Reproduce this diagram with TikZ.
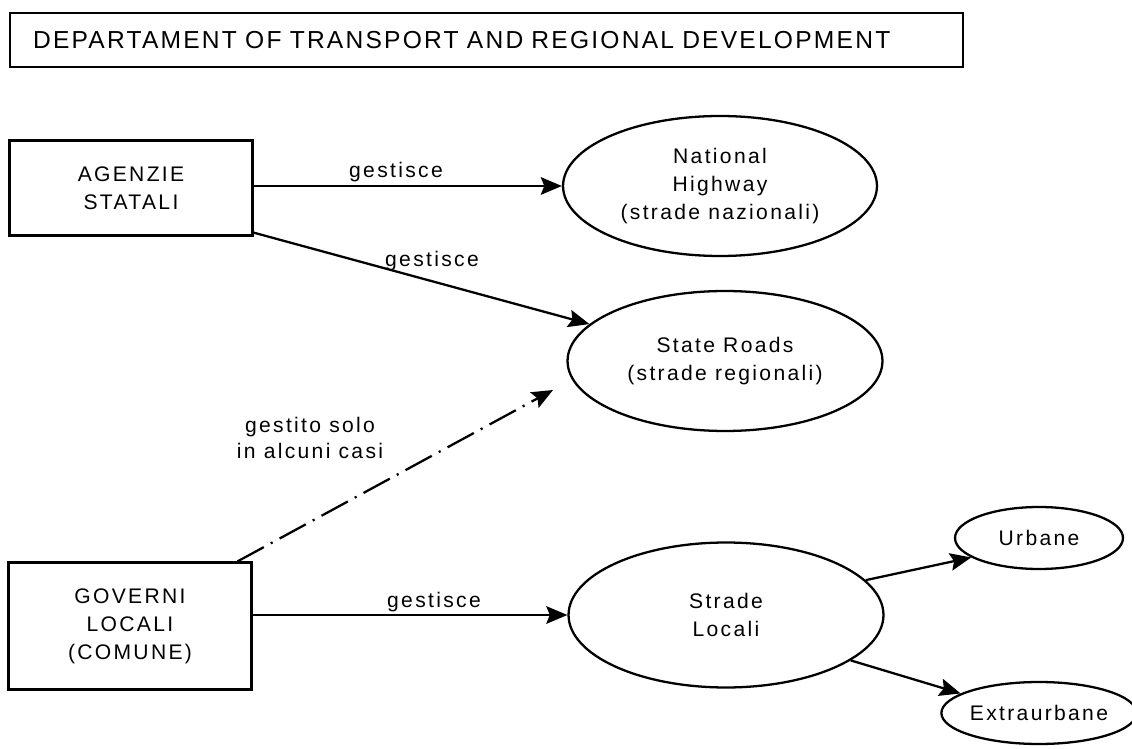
\documentclass[tikz,border=0pt]{standalone}
\usepackage{fontspec}
\setmainfont{Liberation Sans}[LetterSpace=11]
\usetikzlibrary{shapes.geometric, arrows.meta}

\tikzset{
  ente/.style={draw, line width=1.3pt, inner sep=0pt, align=center, minimum width=4.86cm, font=\fontsize{12}{16}\selectfont},
  strada/.style={draw, ellipse, line width=1.3pt, inner sep=0pt, align=center, font=\fontsize{12}{16}\selectfont},
  freccia/.style={line width=1.3pt, -{Stealth[length=12pt,width=10pt,inset=2pt]}},
  etichetta/.style={font=\fontsize{12}{15}\selectfont, align=center}
}

\begin{document}
\begin{tikzpicture}[x=0.02cm, y=-0.02cm]
  \useasboundingbox (0,0) rectangle (1132,749);

  % title
  \node[draw, line width=1.3pt, minimum height=1.08cm, inner xsep=0.46cm, text width=18.14cm, align=left,
        font=\fontsize{14}{16}\selectfont\addfontfeature{LetterSpace=9}] (dipartimento) at (486.5,40)
        {DEPARTAMENT OF TRANSPORT AND REGIONAL DEVELOPMENT};

  % enti
  \node[ente, minimum height=1.9cm] (agenzie) at (131,188) {AGENZIE\\STATALI};
  \node[ente, minimum height=2.54cm] (governi) at (130,626) {GOVERNI\\LOCALI\\(COMUNE)};

  % strade
  \node[strada, minimum width=6.28cm, minimum height=2.8cm] (nazionali) at (720,186) {National\\Highway\\(strade nazionali)};
  \node[strada, minimum width=6.3cm, minimum height=2.8cm] (regionali) at (725,361) {State Roads\\(strade regionali)};
  \node[strada, minimum width=6.3cm, minimum height=2.9cm] (locali) at (726,615) {Strade\\Locali};
  \node[strada, minimum width=3.36cm, minimum height=1.24cm] (urbane) at (1039,538) {Urbane};
  \node[strada, minimum width=3.36cm, minimum height=1.24cm] (extraurbane) at (1039,713) {Extraurbane};
  \coordinate (finesolo) at (553,390);

  % frecce
  \draw[freccia] (agenzie.east |- nazionali.west) -- (nazionali.west); % statali -> nazionali
  \draw[freccia] (agenzie.-20) -- (regionali); % statali -> regionali
  \draw[freccia, dash pattern=on 17pt off 4.5pt on 1.2pt off 4.5pt] (governi.31) -- (finesolo); % solo in alcuni casi
  \draw[freccia] (governi.east |- locali.west) -- (locali.west); % comune -> locali
  \draw[freccia] (locali.14) -- (urbane.196);
  \draw[freccia] (locali.-20) -- (extraurbane.166);

  % labels
  \node[etichetta] (gestisce1) at (396,172) {gestisce};
  \node[etichetta] (gestisce2) at (432,261) {gestisce};
  \node[etichetta] (solo) at (310,438) {gestito solo\\in alcuni casi};
  \node[etichetta] (gestisce3) at (434,602) {gestisce};
\end{tikzpicture}
\end{document}
